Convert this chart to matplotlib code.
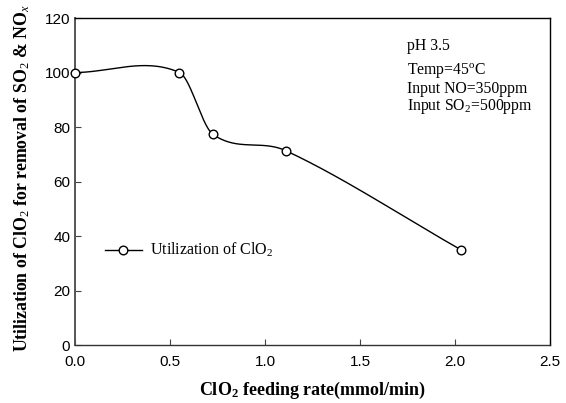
import numpy as np
import matplotlib
matplotlib.use('Agg')
import matplotlib.pyplot as plt

# data
feed_rate = [0.0, 0.55, 0.725, 1.11, 2.03]
utilization = [100.0, 100.0, 77.4, 71.3, 35.0]

x_ticks = [0.0, 0.5, 1.0, 1.5, 2.0, 2.5]
y_ticks = [0, 20, 40, 60, 80, 100, 120]

plt.rcParams['mathtext.fontset'] = 'custom'
plt.rcParams['mathtext.rm'] = 'Liberation Serif'
plt.rcParams['mathtext.it'] = 'Liberation Serif:italic'
plt.rcParams['mathtext.bf'] = 'Liberation Serif:bold'


def smooth_curve(xs, ys, n=60):
    # cubic hermite through the points, tangents from neighbouring points
    xs = np.asarray(xs, float)
    ys = np.asarray(ys, float)
    k = len(xs)
    m = np.zeros(k)
    m[0] = (ys[1] - ys[0]) / (xs[1] - xs[0])
    m[-1] = (ys[-1] - ys[-2]) / (xs[-1] - xs[-2])
    for i in range(1, k - 1):
        m[i] = (ys[i + 1] - ys[i - 1]) / (xs[i + 1] - xs[i - 1])
    out_x, out_y = [], []
    for i in range(k - 1):
        h = xs[i + 1] - xs[i]
        t = np.linspace(0, 1, n)
        h00 = 2 * t ** 3 - 3 * t ** 2 + 1
        h10 = t ** 3 - 2 * t ** 2 + t
        h01 = -2 * t ** 3 + 3 * t ** 2
        h11 = t ** 3 - t ** 2
        out_x.extend(xs[i] + t * h)
        out_y.extend(h00 * ys[i] + h10 * h * m[i] + h01 * ys[i + 1] + h11 * h * m[i + 1])
    return out_x, out_y


fig = plt.figure(figsize=(5.66, 4.03), dpi=100)
ax = fig.add_axes([0.1325, 0.1439, 0.8392, 0.8114])

sx, sy = smooth_curve(feed_rate, utilization)
ax.plot(sx, sy, color='black', linewidth=1.0)
ax.plot(feed_rate, utilization, linestyle='none', marker='o', markersize=6.2,
        markerfacecolor='white', markeredgecolor='black', markeredgewidth=1.0, clip_on=False, zorder=3)

# legend drawn by hand as in the original
ax.plot([0.158, 0.351], [35, 35], color='black', linewidth=1.0)
ax.plot([0.253], [35], marker='o', markersize=6.2, markerfacecolor='white',
        markeredgecolor='black', markeredgewidth=1.0)
ax.text(0.395, 35, 'Utilization of ClO$_2$', fontsize=11.5, family='Liberation Serif', va='center')

ax.text(1.75, 108.1, 'pH 3.5', fontsize=11.3, family='Liberation Serif', va='baseline')
ax.text(1.75, 99.1, 'Temp=45$^{\\mathrm{o}}$C', fontsize=11.3, family='Liberation Serif', va='baseline')
ax.text(1.75, 92.6, 'Input NO=350ppm', fontsize=11.3, family='Liberation Serif', va='baseline')
ax.text(1.75, 86.3, 'Input SO$_2$=500ppm', fontsize=11.3, family='Liberation Serif', va='baseline')

ax.set_xlim(0, 2.5)
ax.set_ylim(0, 120)
ax.set_xticks(x_ticks)
ax.set_yticks(y_ticks)
ax.set_xticklabels(['%.1f' % v for v in x_ticks])
ax.tick_params(direction='in', length=4, labelsize=11, width=0.8, color='#444444')
ax.tick_params(axis='x', pad=7)
for lab in ax.get_xticklabels() + ax.get_yticklabels():
    lab.set_family('Liberation Sans')
for s in ax.spines.values():
    s.set_linewidth(1.0)
ax.spines['left'].set_color('#555555')
ax.spines['left'].set_linewidth(1.4)
ax.spines['bottom'].set_color('#333333')

ax.set_xlabel('ClO$_\\mathbf{2}$ feeding rate(mmol/min)', fontsize=13, fontweight='bold',
              family='Liberation Serif', labelpad=8)
ax.set_ylabel('Utilization of ClO$_2$ for removal of SO$_2$ & NO$_x$', fontsize=12.8,
              fontweight='bold', family='Liberation Serif')
ax.yaxis.set_label_coords(-0.09, 0.51)

fig.savefig('out.png', dpi=100)
